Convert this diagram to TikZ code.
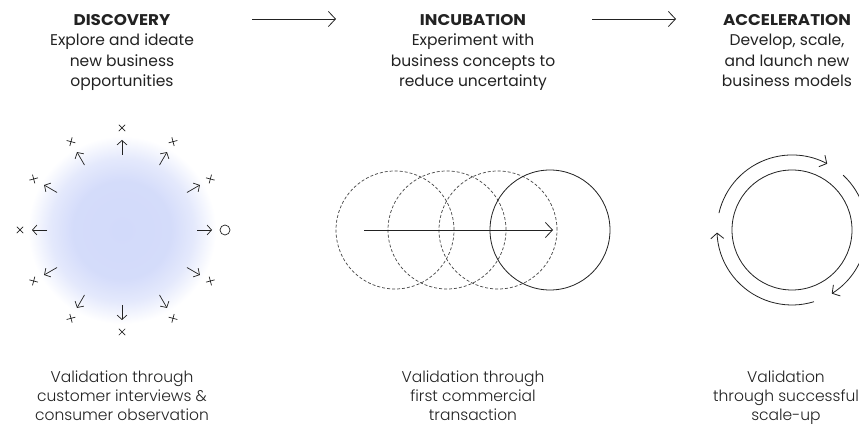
\documentclass[tikz,border=0pt]{standalone}
\usepackage{fontspec}
\setmainfont{Poppins}[BoldFeatures={FakeStretch=1.08}]
\newfontfamily\valfont{Poppins}[UprightFont=* Light]
\usetikzlibrary{arrows.meta,positioning,calc}

\definecolor{InkGrey} {RGB}{34,34,34}
\definecolor{BlobBlue}{RGB}{210,218,250}
\pgfdeclareradialshading{blob}{\pgfpoint{0bp}{0bp}}{color(0bp)=(BlobBlue);
  color(13bp)=(BlobBlue!95); color(19bp)=(BlobBlue!60); color(25bp)=(white);
  color(50bp)=(white)}

\begin{document}
\begin{tikzpicture}[x=1pt,y=1pt,
  stage/.style={align=center,inner sep=0pt,anchor=north,text=InkGrey,
                font=\fontsize{15.5}{20.5}\selectfont},
  check/.style={align=center,inner sep=0pt,anchor=north,text=InkGrey,
                font=\valfont\fontsize{15.5}{19}\selectfont},
  flow/.style={-{Straight Barb[length=7pt,width=15pt]},line width=0.8pt,InkGrey},
  ray/.style={-{Straight Barb[length=4.5pt,width=10pt]},line width=0.7pt,InkGrey},
  cyc/.style={-{Straight Barb[length=5.5pt,width=13pt]},line width=0.8pt,InkGrey},
  ghost/.style={circle,draw=InkGrey!85,dash pattern=on 3pt off 2pt,line width=0.7pt,
                minimum size=118pt,inner sep=0pt},
  ring/.style={circle,draw=InkGrey,line width=0.8pt,minimum size=120pt,inner sep=0pt}]
  \path[use as bounding box,fill=white] (0,0) rectangle (859,427);

  \node[stage] (disc) at (122,413)
        {\textbf{DISCOVERY}\\Explore and ideate\\new business\\opportunities};
  \node[stage] (incu) at (473,413)
        {\textbf{INCUBATION}\\Experiment with\\business concepts to\\reduce uncertainty};
  \node[stage] (accel) at (787,413)
        {\textbf{ACCELERATION}\\Develop, scale,\\and launch new\\business models};
  \coordinate (f1a) at (252,408);
  \coordinate (f1b) at (336,408);
  \coordinate (f2a) at (592,408);
  \coordinate (f2b) at (676,408);
  \draw[flow] (f1a) -- (f1b);
  \draw[flow] (f2a) -- (f2b);

  \coordinate (dc) at (122,197);
  \shade[shading=blob] (dc) circle (94pt);
  \foreach \a in {0,30,...,330}{
    \coordinate (rin\a) at ([shift={(\a:75pt)}]dc);
    \coordinate (rout\a) at ([shift={(\a:90pt)}]dc);
    \draw[ray] (rin\a) -- (rout\a);
  }
  \foreach \a in {30,60,...,330}{
    \coordinate (x\a) at ([shift={(\a:102pt)}]dc);
    \draw[InkGrey,line width=0.7pt] (x\a) +(\a+45:4.5pt) -- +(\a+225:4.5pt)
          (x\a) +(\a-45:4.5pt) -- +(\a+135:4.5pt);
  }
  \node[circle,draw=InkGrey,line width=0.7pt,minimum size=10pt,inner sep=0pt]
        (goal) at ([shift={(0:103pt)}]dc) {};

  \node[ghost] (g1) at (395,197) {};
  \node[ghost] (g2) at (447,197) {};
  \node[ghost] (g3) at (498,197) {};
  \node[ring]  (now) at (550,197) {};
  \coordinate (pa) at (364,197);
  \coordinate (pb) at (553,197);
  \draw[flow] (pa) -- (pb);

  \node[ring] (core) at (792,197) {};
  \foreach \k in {0,1,2}{
    \draw[cyc] ([shift={(167-120*\k:75pt)}]core.center)
          arc[start angle=167-120*\k,end angle=62-120*\k,radius=75pt];
  }

  \node[check] (vd) at (122,56)
        {Validation through\\customer interviews \&\\consumer observation};
  \node[check] (vi) at (473,56)
        {Validation through\\first commercial\\transaction};
  \node[check] (va) at (786,56)
        {Validation\\through successful\\scale-up};
\end{tikzpicture}
\end{document}
